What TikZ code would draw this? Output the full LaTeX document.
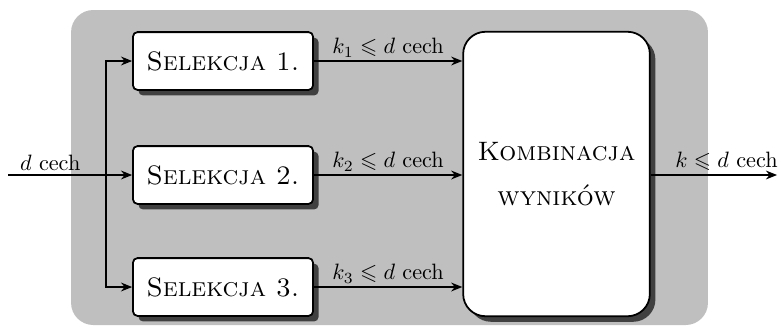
\documentclass[tikz,border=0pt]{standalone}
\usepackage{amssymb}
\usetikzlibrary{arrows.meta,shadows}
\begin{document}
\begin{tikzpicture}[x=0.45pt,y=-0.45pt,
  selbox/.style={draw,line width=0.8pt,rounded corners=2pt,fill=white,
    minimum width=81pt,minimum height=26pt,inner sep=0pt,font=\large,
    general shadow={fill=black!75,shadow xshift=2.5pt,shadow yshift=-2.5pt}},
  bigbox/.style={draw,line width=0.8pt,rounded corners=10pt,fill=white,
    minimum width=84pt,minimum height=128pt,inner sep=0pt,font=\large,align=center,
    general shadow={fill=black!75,shadow xshift=2.5pt,shadow yshift=-2.5pt}},
  conn/.style={-{Stealth[length=5pt,width=4pt]},line width=0.6pt},
  lbl/.style={above,inner sep=1.5pt}]
\useasboundingbox (0,0) rectangle (781,333);
\node[fill=black!25,rounded corners=10pt,minimum width=286.6pt,minimum height=141.75pt,inner sep=0pt] (bg) at (389.5,167.5) {};
\node[selbox] (s1) at (223,61) {\textsc{Selekcja 1.}};
\node[selbox] (s2) at (223,175) {\textsc{Selekcja 2.}};
\node[selbox] (s3) at (223,287) {\textsc{Selekcja 3.}};
\node[bigbox] (k) at (556.5,174) {\textsc{Kombinacja}\\[6pt]\textsc{wyników}};
\coordinate (in) at (8,175);
\coordinate (br) at (106,175);
\coordinate (out) at (777,175);
\draw[line width=0.6pt] (in) -- (br);
\draw[conn] (in) -- node[lbl,pos=0.34] {$d$ cech} (s2.west);
\draw[conn] (br) |- (s1.west);
\draw[conn] (br) |- (s3.west);
\draw[conn] (s1.east) -- node[lbl] {$k_1\leqslant d$ cech} (s1.east -| k.west);
\draw[conn] (s2.east) -- node[lbl] {$k_2\leqslant d$ cech} (s2.east -| k.west);
\draw[conn] (s3.east) -- node[lbl] {$k_3\leqslant d$ cech} (s3.east -| k.west);
\draw[conn] (k.east |- out) -- node[lbl,pos=0.6] {$k\leqslant d$ cech} (out);
\end{tikzpicture}
\end{document}
